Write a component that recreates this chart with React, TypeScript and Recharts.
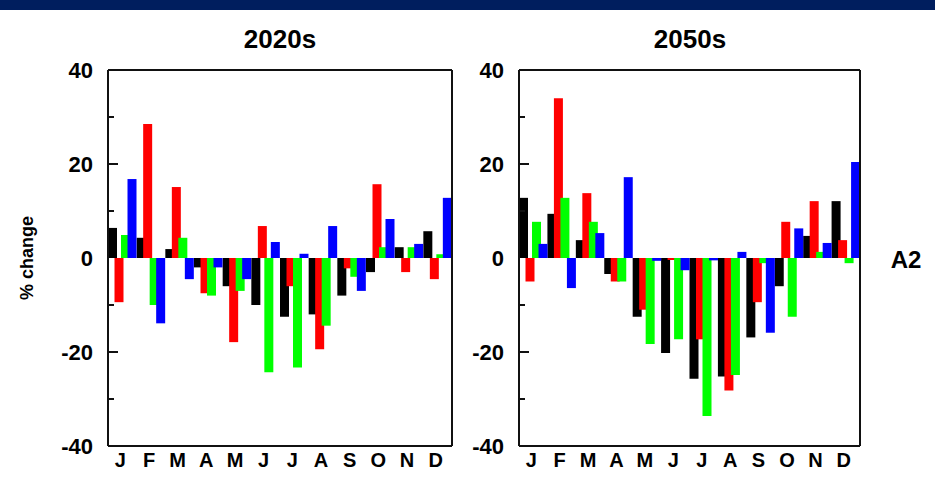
import { Bar, BarChart, ReferenceLine, XAxis, YAxis } from 'recharts';

const months = ['J', 'F', 'M', 'A', 'M', 'J', 'J', 'A', 'S', 'O', 'N', 'D'];
const yTicks = [-40, -30, -20, -10, 0, 10, 20, 30, 40];

// 2020s
const black2020 = [6.4, 4.3, 1.9, -2, -6, -10, -12.5, -12, -8, -3, 2.3, 5.7];
const red2020 = [-9.4, 28.5, 15.1, -7.5, -17.9, 6.8, -6, -19.4, -2.2, 15.7, -3, -4.5];
const green2020 = [4.9, -10, 4.3, -8, -7, -24.3, -23.3, -14.4, -4, 2.3, 2.3, 0.8];
const blue2020 = [16.8, -13.9, -4.5, -2, -4.5, 3.4, 0.9, 6.8, -7, 8.3, 3, 12.8];

// 2050s
const black2050 = [12.8, 9.4, 3.8, -3.4, -12.5, -20.2, -25.7, -25.2, -16.9, -6, 4.7, 12.1];
const red2050 = [-5, 34, 13.8, -5, -11, -0.4, -17.3, -28.2, -9.4, 7.7, 12.1, 3.8];
const green2050 = [7.7, 12.8, 7.7, -5, -18.3, -17.3, -33.6, -24.9, -1.1, -12.5, 1.3, -1.1];
const blue2050 = [3, -6.4, 5.3, 17.2, -0.6, -2.6, -0.5, 1.3, -15.9, 6.3, 3.2, 20.4];

const FONT = '"Liberation Sans", Arial, sans-serif';
const INK = '#111';

const rows = (k: number[], r: number[], g: number[], b: number[]) =>
  months.map((_, i) => ({ i, k: k[i], r: r[i], g: g[i], b: b[i] }));

const data2020 = rows(black2020, red2020, green2020, blue2020);
const data2050 = rows(black2050, red2050, green2050, blue2050);

const LABEL_GAP = 15;

const LeftTick = (props: any) => {
  const { x, y, payload } = props;
  const v = payload.value;
  const ax = x + LABEL_GAP;
  const major = v % 20 === 0;
  return (
    <g>
      {Math.abs(v) < 40 && v !== 0 && (
        <line x1={ax} x2={ax + (major ? 10 : 6)} y1={y} y2={y} stroke={INK} strokeWidth={2} />
      )}
      {major && (
        <text x={x} y={y} dy="0.36em" textAnchor="end" fontFamily={FONT} fontWeight="bold" fontSize={22} fill="#000">
          {v}
        </text>
      )}
    </g>
  );
};

const RightTick = (props: any) => {
  const { x, y, payload } = props;
  const v = payload.value;
  if (Math.abs(v) >= 40 || v === 0) return <g />;
  const major = v % 20 === 0;
  return <line x1={x} x2={x - (major ? 10 : 6)} y1={y} y2={y} stroke={INK} strokeWidth={2} />;
};

const MonthTick = (props: any) => {
  const { x, y, payload } = props;
  return (
    <text x={x - 2} y={y} dy="0.71em" textAnchor="middle" fontFamily={FONT} fontWeight="bold" fontSize={20} fill="#000">
      {months[payload.value]}
    </text>
  );
};

const Panel = ({ data, yAxisWidth, width }: { data: any[]; yAxisWidth: number; width: number }) => (
  <BarChart
    width={width}
    height={486}
    data={data}
    margin={{ top: 70, right: 0, bottom: 0, left: 0 }}
    barCategoryGap={0}
    barGap={-2.5}
  >
    <XAxis
      dataKey="i"
      height={40}
      tick={<MonthTick />}
      tickSize={0}
      tickMargin={7}
      interval={0}
      axisLine={{ stroke: INK, strokeWidth: 2 }}
    />
    <YAxis
      yAxisId="left"
      width={yAxisWidth}
      domain={[-40, 40]}
      ticks={yTicks}
      interval={0}
      tickSize={0}
      tickMargin={LABEL_GAP}
      tick={<LeftTick />}
      axisLine={{ stroke: INK, strokeWidth: 2 }}
    />
    <YAxis
      yAxisId="right"
      orientation="right"
      width={18}
      domain={[-40, 40]}
      ticks={yTicks}
      interval={0}
      tickSize={0}
      tickMargin={0}
      tick={<RightTick />}
      axisLine={{ stroke: INK, strokeWidth: 2 }}
    />
    <ReferenceLine yAxisId="left" y={40} stroke={INK} strokeWidth={2} />
    <Bar yAxisId="left" dataKey="k" fill="#000000" isAnimationActive={false} />
    <Bar yAxisId="left" dataKey="r" fill="#ff0000" isAnimationActive={false} />
    <Bar yAxisId="left" dataKey="g" fill="#00ff00" isAnimationActive={false} />
    <Bar yAxisId="left" dataKey="b" fill="#0000ff" isAnimationActive={false} />
  </BarChart>
);

export default function App() {
  return (
    <div style={{ position: 'absolute', left: 0, top: 0, width: 935, height: 486, background: '#fff', overflow: 'hidden' }}>
      <div style={{ position: 'absolute', left: 0, top: 0, width: 935, height: 10, background: '#001e5e' }} />
      <div style={{ position: 'absolute', left: 0, top: 0 }}>
        <Panel data={data2020} yAxisWidth={108} width={470} />
      </div>
      <div style={{ position: 'absolute', left: 420, top: 0 }}>
        <Panel data={data2050} yAxisWidth={99} width={458} />
      </div>
      <svg style={{ position: 'absolute', left: 0, top: 0 }} width={935} height={486} pointerEvents="none">
        <text x={280} y={48} textAnchor="middle" fontFamily={FONT} fontWeight="bold" fontSize={26} fill="#000">
          2020s
        </text>
        <text x={690} y={48} textAnchor="middle" fontFamily={FONT} fontWeight="bold" fontSize={26} fill="#000">
          2050s
        </text>
        <text
          x={27}
          y={258}
          transform="rotate(-90 27 258)"
          dy="0.35em"
          textAnchor="middle"
          fontFamily={FONT}
          fontWeight="bold"
          fontSize={18}
          fill="#000"
        >
          % change
        </text>
        <text x={906} y={268} textAnchor="middle" fontFamily={FONT} fontWeight="bold" fontSize={24} fill="#000">
          A2
        </text>
      </svg>
    </div>
  );
}
